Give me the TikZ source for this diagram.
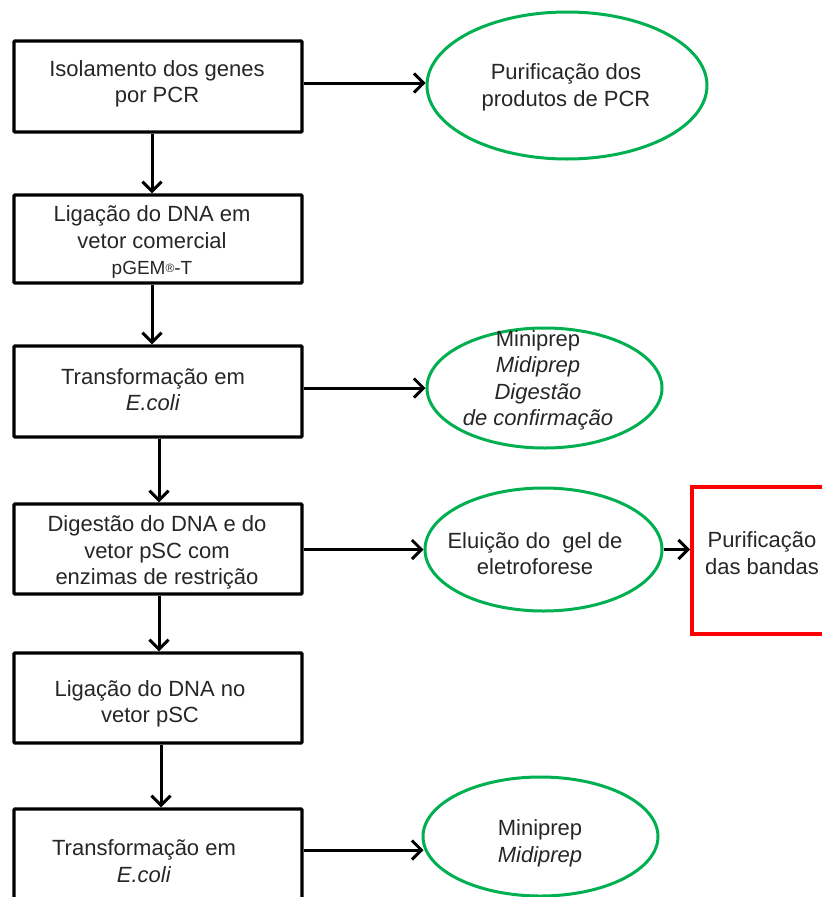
\documentclass[tikz,border=0pt]{standalone}
\usepackage{fontspec}
\setmainfont{Liberation Sans}
\usetikzlibrary{shapes.geometric,arrows.meta}
\definecolor{okgreen}{RGB}{0,176,80}
\definecolor{okred}{RGB}{255,0,0}
\begin{document}
\begin{tikzpicture}[x=1pt,y=-1pt,
  boxstyle/.style={draw=black,line width=3.3pt,rectangle,rounded corners=1pt,inner sep=0pt,minimum width=288pt},
  ovalstyle/.style={draw=okgreen,line width=3pt,ellipse,inner sep=0pt},
  redbox/.style={draw=okred,line width=4pt,rectangle,inner sep=0pt},
  txt/.style={align=center,font=\fontsize{22}{26.5}\selectfont,text=black!85,inner sep=0pt},
  arr/.style={line width=3pt,-{Straight Barb[length=9.5pt,width=19pt,line width=3pt]}}
]
\useasboundingbox (0,0) rectangle (822,897);

% process boxes
\node[boxstyle,minimum height=91pt] (b1) at (158,86.5) {};
\node[boxstyle,minimum height=88pt] (b2) at (158,239) {};
\node[boxstyle,minimum height=91pt] (b3) at (158,391.5) {};
\node[boxstyle,minimum height=90pt] (b4) at (158,549) {};
\node[boxstyle,minimum height=90pt] (b5) at (158,698) {};
\node[boxstyle,minimum height=100pt] (b6) at (158,859) {};

% ellipses
\node[ovalstyle,minimum width=280pt,minimum height=147pt] (e1) at (567,85.5) {};
\node[ovalstyle,minimum width=235pt,minimum height=120pt] (e2) at (544.5,388) {};
\node[ovalstyle,minimum width=237pt,minimum height=123pt] (e3) at (543.5,549.5) {};
\node[ovalstyle,minimum width=235pt,minimum height=119pt] (e4) at (540.5,836.5) {};

% red box
\node[redbox,minimum width=220pt,minimum height=147pt] (rb) at (802,560.5) {};

% texts
\node[txt] (t1) at (157,84) {Isolamento dos genes\\por PCR};
\node[txt] (t2) at (152,242) {Ligação do DNA em\\vetor comercial\\{\fontsize{19}{26.5}\selectfont pGEM\raisebox{2pt}{\fontsize{12}{12}\selectfont ®}-T}};
\node[txt] (t3) at (153,389.5) {Transformação em\\\textit{E.coli}};
\node[txt] (t4) at (157,552.5) {Digestão do DNA e do\\vetor pSC com\\enzimas de restrição};
\node[txt] (t5) at (150,704) {Ligação do DNA no\\vetor pSC};
\node[txt] (t6) at (144,861) {Transformação em\\\textit{E.coli}};
\node[txt] (te1) at (566,87.5) {Purificação dos\\produtos de PCR};
\node[txt] (te2) at (538,380.5) {Miniprep\\\textit{Midiprep}\\\textit{Digestão}\\\textit{de confirmação}};
\node[txt] (te3) at (535,553.5) {Eluição do~ gel de\\eletroforese};
\node[txt] (te4) at (540,843.5) {Miniprep\\\textit{Midiprep}};
\node[txt] (tr) at (762,553) {Purificação\\das bandas};

% vertical arrows
\draw[arr] ([xshift=-6pt]b1.south) -- ([xshift=-6pt]b2.north);
\draw[arr] ([xshift=-6pt]b2.south) -- ([xshift=-6pt]b3.north);
\draw[arr] ([xshift=1pt]b3.south) -- ([xshift=1pt]b4.north);
\draw[arr] ([xshift=1pt]b4.south) -- ([xshift=1pt]b5.north);
\draw[arr] ([xshift=3pt]b5.south) -- ([xshift=3pt]b6.north);

% horizontal arrows
\coordinate (a1) at ([yshift=3.5pt]b1.east);
\draw[arr] (a1) -- (a1 -| e1.west);
\draw[arr] (b3.east |- e2.west) -- (e2.west);
\draw[arr] (b4.east |- e3.west) -- (e3.west);
\draw[arr] (e3.east) -- (e3.east -| rb.west);
\coordinate (a6) at ([yshift=9pt]b6.east);
\draw[arr] (a6) -- ([xshift=2pt]a6 -| e4.west);
\end{tikzpicture}
\end{document}
